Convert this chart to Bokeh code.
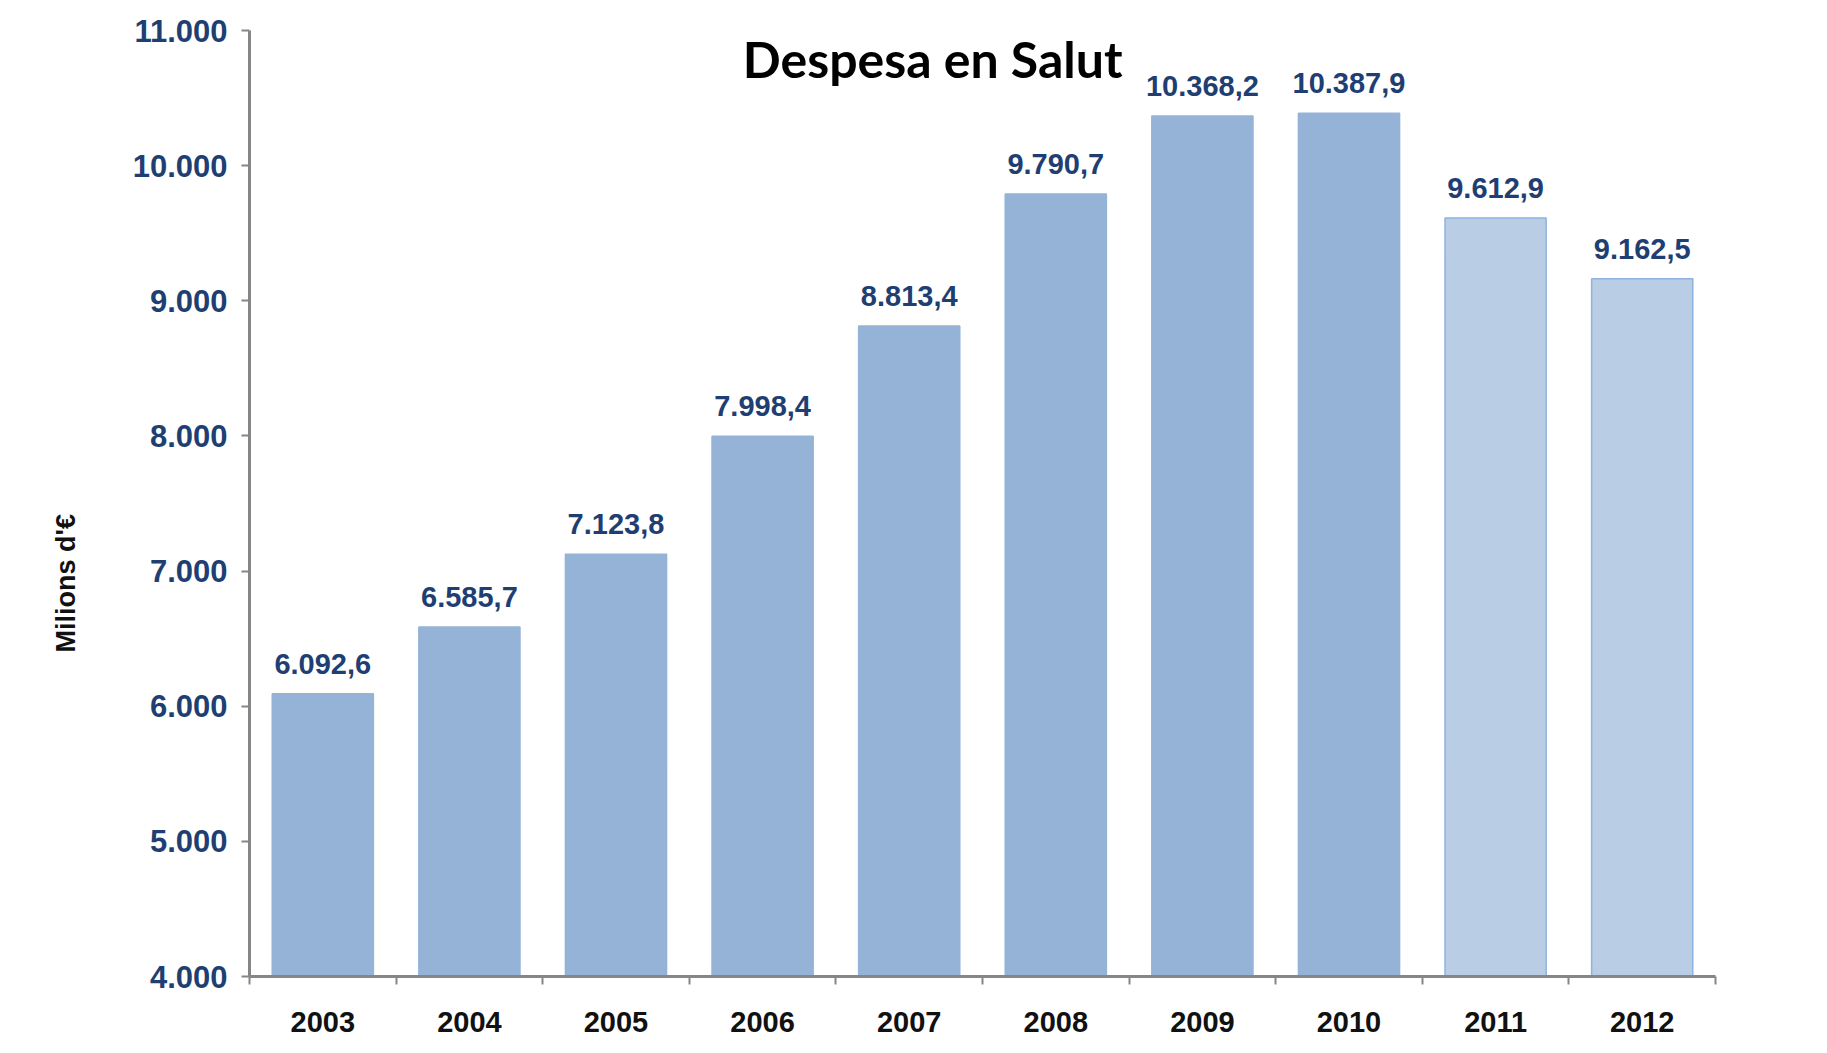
from bokeh.plotting import figure
from bokeh.models import ColumnDataSource, FixedTicker, LabelSet, Label, Title
from bokeh.core.properties import value
from bokeh.embed import file_html
from bokeh.resources import INLINE

years = ["2003", "2004", "2005", "2006", "2007", "2008", "2009", "2010", "2011", "2012"]
values = [6092.6, 6585.7, 7123.8, 7998.4, 8813.4, 9790.7, 10368.2, 10387.9, 9612.9, 9162.5]
fills = ["#95B3D7"] * 8 + ["#B9CDE5"] * 2
outlines = ["#95B3D7"] * 8 + ["#8FB2DE"] * 2
y_ticks = [4000, 5000, 6000, 7000, 8000, 9000, 10000, 11000]
title_text = "Despesa en Salut"
y_label = "Milions d'\u20ac"


def fmt_ca(v, decimals):
    s = f"{v:,.{decimals}f}"
    return s.replace(",", "X").replace(".", ",").replace("X", ".")


xs = [i + 0.5 for i in range(len(years))]
labels = [fmt_ca(v, 1) for v in values]

src = ColumnDataSource(dict(x=xs, top=values, fill=fills, line=outlines, label=labels))

p = figure(width=1811, height=1037, x_range=(0, len(years)), y_range=(y_ticks[0], y_ticks[-1]),
           output_backend="svg", toolbar_location=None,
           min_border_left=248, min_border_right=96, min_border_top=30, min_border_bottom=61)
p.background_fill_color = "white"
p.border_fill_color = "white"
p.outline_line_color = None
p.grid.visible = False

p.vbar(x="x", top="top", bottom=y_ticks[0], width=0.69, fill_color="fill", line_color="line",
       line_width=1.5, source=src)

lab = LabelSet(x="x", y="top", text="label", source=src, text_align="center",
               text_baseline="alphabetic", y_offset=20, text_font=value("Liberation Sans"),
               text_font_style="bold", text_font_size="29px", text_color="#1F3F73")
p.add_layout(lab)

p.add_layout(Label(x=4.66, y=10790, text=title_text, text_font="Lato", text_font_style="bold",
                   text_font_size="50px", text_align="center", text_baseline="middle",
                   text_color="black"))

# rotated y-axis title on the left side
p.add_layout(Title(text=y_label, align="left", offset=324, standoff=97,
                   text_font="Liberation Sans", text_font_style="bold",
                   text_font_size="27px", text_color="#111111"), "left")

# x axis
xa = p.xaxis[0]
xa.ticker = FixedTicker(ticks=xs, minor_ticks=list(range(len(years) + 1)))
xa.major_label_overrides = {x: y for x, y in zip(xs, years)}
xa.major_tick_out = 0
xa.major_tick_in = 0
xa.minor_tick_out = 8
xa.minor_tick_in = 0
xa.minor_tick_line_color = "#868686"
xa.minor_tick_line_width = 2
xa.axis_line_color = "#868686"
xa.axis_line_width = 3
xa.major_label_text_font = "Liberation Sans"
xa.major_label_text_font_style = "bold"
xa.major_label_text_font_size = "29px"
xa.major_label_text_color = "#111111"
xa.major_label_standoff = 27

# y axis
ya = p.yaxis[0]
ya.ticker = FixedTicker(ticks=y_ticks, minor_ticks=[])
ya.major_label_overrides = {t: fmt_ca(t, 0) for t in y_ticks}
ya.major_tick_out = 8
ya.major_tick_in = 0
ya.major_tick_line_color = "#868686"
ya.major_tick_line_width = 2
ya.axis_line_color = "#868686"
ya.axis_line_width = 3
ya.major_label_text_font = "Liberation Sans"
ya.major_label_text_font_style = "bold"
ya.major_label_text_font_size = "31px"
ya.major_label_text_color = "#1F3F73"
ya.major_label_standoff = 14

open("out.html", "w").write(file_html(p, INLINE))
